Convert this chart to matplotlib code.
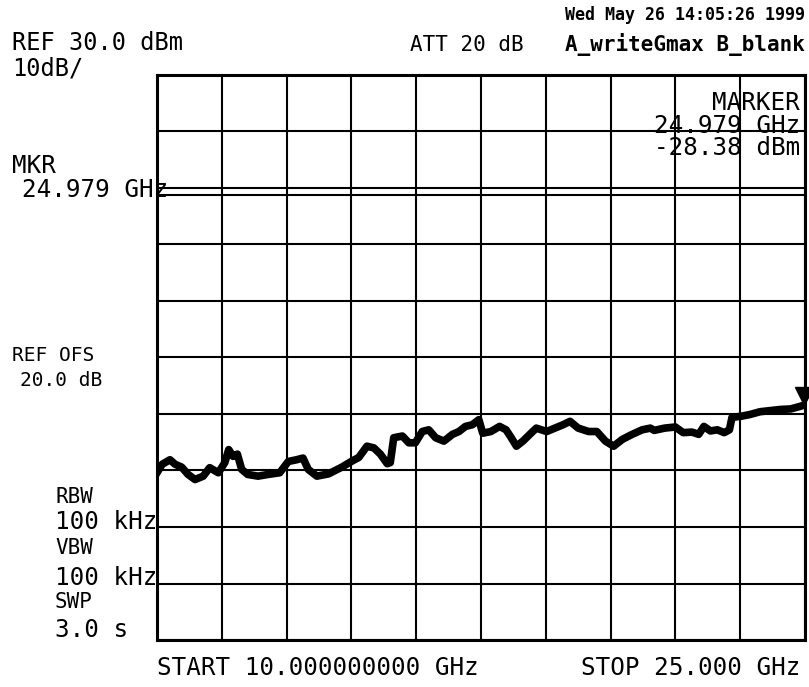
import matplotlib
matplotlib.use("Agg")
import matplotlib.pyplot as plt
import matplotlib.transforms as mtransforms

# trace (GHz, dBm)
freq_ghz = [10.0, 10.12, 10.3, 10.42, 10.57, 10.72, 10.88, 11.07, 11.22, 11.42,
            11.57, 11.66, 11.76, 11.86, 11.96, 12.1, 12.34, 12.57, 12.84, 13.04,
            13.23, 13.38, 13.5, 13.7, 13.97, 14.28, 14.52, 14.67, 14.86, 15.02,
            15.17, 15.33, 15.4, 15.48, 15.68, 15.83, 15.98, 16.14, 16.29, 16.45,
            16.64, 16.84, 16.99, 17.14, 17.3, 17.45, 17.54, 17.73, 17.93, 18.08,
            18.2, 18.32, 18.47, 18.63, 18.78, 19.02, 19.21, 19.4, 19.56, 19.75,
            19.99, 20.18, 20.38, 20.57, 20.77, 21.0, 21.23, 21.42, 21.51, 21.75,
            22.0, 22.18, 22.38, 22.54, 22.66, 22.81, 22.97, 23.13, 23.25, 23.31,
            23.52, 23.72, 23.96, 24.19, 24.43, 24.67, 24.91, 24.98, 25.0]
level_dbm = [-40.4, -38.9, -38.1, -38.9, -39.4, -40.7, -41.6, -41.0, -39.5, -40.4,
             -38.6, -36.3, -37.5, -37.1, -39.8, -40.7, -41.0, -40.7, -40.4, -38.4,
             -38.1, -37.8, -39.8, -41.0, -40.6, -39.4, -38.3, -37.7, -35.7, -36.0,
             -37.1, -38.8, -38.6, -34.2, -33.9, -35.1, -35.1, -33.1, -32.8, -34.2,
             -34.8, -33.6, -33.1, -32.2, -31.9, -31.0, -33.4, -33.1, -32.2, -32.8,
             -34.2, -35.7, -34.8, -33.6, -32.5, -33.1, -32.5, -31.9, -31.3, -32.5,
             -33.1, -33.1, -34.8, -35.7, -34.5, -33.6, -32.8, -32.5, -32.9, -32.5,
             -32.3, -33.3, -33.2, -33.6, -32.2, -33.0, -32.8, -33.3, -32.8, -30.6,
             -30.4, -30.1, -29.6, -29.4, -29.2, -29.1, -28.6, -28.4, -28.4]

start_ghz = 10.0
stop_ghz = 25.0
ref_dbm = 30.0
db_per_div = 10
n_div = 10
mkr_freq = 24.979
mkr_level = -28.38
display_line = 8.8

W, H = 809, 687
fig = plt.figure(figsize=(W / 100, H / 100), dpi=100)
ax = fig.add_axes([157 / W, (H - 640) / H, 648 / W, 565 / H])

xticks = [start_ghz + i * (stop_ghz - start_ghz) / n_div for i in range(n_div + 1)]
yticks = [ref_dbm - i * db_per_div for i in range(n_div + 1)]
ax.set_xlim(start_ghz, stop_ghz)
ax.set_ylim(yticks[-1], ref_dbm)
ax.set_xticks(xticks)
ax.set_yticks(yticks)
ax.tick_params(length=0, labelbottom=False, labelleft=False)
ax.grid(True, color="black", linewidth=1.5)
for s in ax.spines.values():
    s.set_linewidth(2.2)

ax.axhline(display_line, color="black", linewidth=1.5)
ax.plot(freq_ghz, level_dbm, color="black", linewidth=5.5, solid_joinstyle="round")

# marker triangle just above the trace
off = mtransforms.offset_copy(ax.transData, fig=fig, x=0, y=9, units="dots")
ax.plot([mkr_freq], [mkr_level], marker="v", color="black", markersize=13,
        transform=off, clip_on=False)

mono = "DejaVu Sans Mono"


def put(x, y, s, size=17.5, ha="left", weight="normal"):
    fig.text(x / W, 1 - y / H, s, family=mono, fontsize=size, ha=ha,
             va="center", weight=weight)


put(805, 15, "Wed May 26 14:05:26 1999", size=12, ha="right", weight="bold")
put(12, 43, "REF 30.0 dBm", size=17)
put(12, 68, "10dB/", size=17)
put(410, 45, "ATT 20 dB", size=15)
put(805, 45, "A_writeGmax B_blank", size=15, ha="right", weight="bold")
put(800, 103, "MARKER", ha="right")
put(800, 126, "24.979 GHz", ha="right")
put(800, 148, "-28.38 dBm", ha="right")
put(12, 166, "MKR")
put(22, 190, "24.979 GHz")
put(12, 356, "REF OFS", size=14)
put(20, 380, "20.0 dB", size=14)
put(55, 497, "RBW", size=15)
put(157, 522, "100 kHz", ha="right")
put(55, 548, "VBW", size=15)
put(157, 578, "100 kHz", ha="right")
put(55, 602, "SWP", size=15)
put(55, 630, "3.0 s")
put(157, 668, "START 10.000000000 GHz")
put(800, 668, "STOP 25.000 GHz", ha="right")

fig.savefig("out.png", dpi=100, facecolor="white")
